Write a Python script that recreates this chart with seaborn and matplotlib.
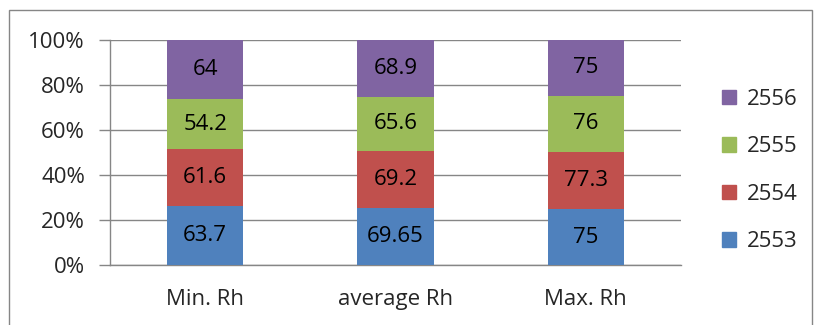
import numpy as np
import pandas as pd
import seaborn as sns
import matplotlib.pyplot as plt
from matplotlib.patches import Patch, Rectangle

# datos
categorias = ["Min. Rh", "average Rh", "Max. Rh"]
anios = ["2553", "2554", "2555", "2556"]
v2553 = [63.7, 69.65, 75]
v2554 = [61.6, 69.2, 77.3]
v2555 = [54.2, 65.6, 76]
v2556 = [64, 68.9, 75]
etiquetas = [["63.7", "69.65", "75"], ["61.6", "69.2", "77.3"],
             ["54.2", "65.6", "76"], ["64", "68.9", "75"]]
colores = ["#4F81BD", "#C0504D", "#9BBB59", "#8064A2"]

sns.set_style("white")
plt.rcParams['font.family'] = ['Open Sans', 'DejaVu Sans']
fs = 16

valores = np.array([v2553, v2554, v2555, v2556])
pct = valores / valores.sum(axis=0) * 100
acum = pct.cumsum(axis=0)

fig = plt.figure(figsize=(8.14, 3.25), dpi=100)
ax = fig.add_axes([110/814, 60/325, 571/814, 225/325])

# barras apiladas: se dibuja desde la acumulada mayor a la menor
for i in range(3, -1, -1):
    df = pd.DataFrame({"cat": categorias, "val": acum[i]})
    sns.barplot(data=df, x="cat", y="val", color=colores[i], width=0.4,
                saturation=1, ax=ax, zorder=3, linewidth=0)

# textos dentro de cada segmento
for i in range(4):
    for j in range(3):
        yc = acum[i][j] - pct[i][j] / 2
        ax.text(j, yc, etiquetas[i][j], ha="center", va="center",
                fontsize=fs, color="black", zorder=4)

ax.set_xlim(-0.5, 2.5)
ax.set_ylim(0, 100)
ax.set_yticks([0, 20, 40, 60, 80, 100])
ax.set_yticklabels(["0%", "20%", "40%", "60%", "80%", "100%"], fontsize=fs)
ax.set_xticks([0, 1, 2])
ax.set_xticklabels(categorias, fontsize=fs)
ax.set_xticks([-0.5, 0.5, 1.5, 2.5], minor=True)
ax.tick_params(axis="x", which="major", length=0, pad=17)
ax.tick_params(axis="x", which="minor", length=8, color="#868686", width=1, direction="out")
ax.tick_params(axis="y", length=8, color="#868686", width=1, direction="out", pad=10, left=True)
ax.set_xlabel("")
ax.set_ylabel("")
ax.yaxis.grid(True, color="#868686", linewidth=1)
ax.set_axisbelow(True)
for s in ["top", "right"]:
    ax.spines[s].set_visible(False)
for s in ["left", "bottom"]:
    ax.spines[s].set_color("#868686")
    ax.spines[s].set_linewidth(1)

# leyenda
handles = [Patch(color=colores[i], label=anios[i]) for i in range(3, -1, -1)]
fig.legend(handles=handles, loc="center left", bbox_to_anchor=(0.863, 0.475),
           frameon=False, fontsize=fs, handlelength=0.63, handleheight=0.63,
           handletextpad=0.45, labelspacing=1.19)

# borde del grafico
fig.patches.append(Rectangle((9/814, -0.05), 803/814, 1.05 - 10/325,
                             transform=fig.transFigure, fill=False,
                             edgecolor="#868686", linewidth=1))

fig.savefig("out.png", dpi=100)
